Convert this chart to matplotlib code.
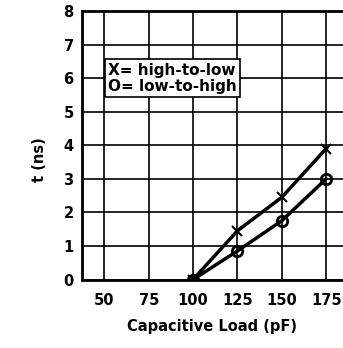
import matplotlib.pyplot as plt

# data
load_pf = [100, 125, 150, 175]
high_to_low = [0.0, 1.45, 2.45, 3.9]
low_to_high = [0.0, 0.85, 1.75, 3.0]
x_ticks = [50, 75, 100, 125, 150, 175]
y_ticks = [0, 1, 2, 3, 4, 5, 6, 7, 8]

fig = plt.figure(figsize=(3.43, 3.48), dpi=100)
W, H = 343, 348
# axes box in pixels: left 82, right edge of image, top 11, bottom 279.5
ax = fig.add_axes([82 / W, (H - 279.5) / H, (W - 82) / W, (279.5 - 11) / H])

ax.set_xlim(37.4, 184.5)
ax.set_ylim(0, 8)
ax.set_xticks(x_ticks)
ax.set_yticks(y_ticks)
ax.grid(True, color='black', linewidth=1.2)
ax.set_axisbelow(True)
ax.tick_params(axis='y', length=0, pad=6, labelsize=10.5)
ax.tick_params(axis='x', length=0, pad=10, labelsize=10.5)
for lab in ax.get_xticklabels() + ax.get_yticklabels():
    lab.set_fontweight('bold')
for side in ['left', 'top', 'bottom']:
    ax.spines[side].set_linewidth(2)
ax.spines['right'].set_visible(False)

ax.plot(load_pf, high_to_low, color='black', linewidth=2.5,
        marker='x', markersize=7, markeredgewidth=1.5)
ax.plot(load_pf, low_to_high, color='black', linewidth=2.5,
        marker='o', markersize=7.5, markerfacecolor='none', markeredgewidth=2)

ax.text(52, 6.0, "X= high-to-low\nO= low-to-high", fontsize=11,
        fontweight='bold', ha='left', va='center', linespacing=1.1,
        bbox=dict(boxstyle='square,pad=0.2', facecolor='white',
                  edgecolor='black', linewidth=1.2))

fig.text(40 / W, 1 - 160 / H, "t (ns)", rotation=90, fontsize=10.5,
         fontweight='bold', ha='center', va='center')
fig.text(212 / W, 1 - 327 / H, "Capacitive Load (pF)", fontsize=10.5,
         fontweight='bold', ha='center', va='center')

fig.savefig('out.png', dpi=100)
